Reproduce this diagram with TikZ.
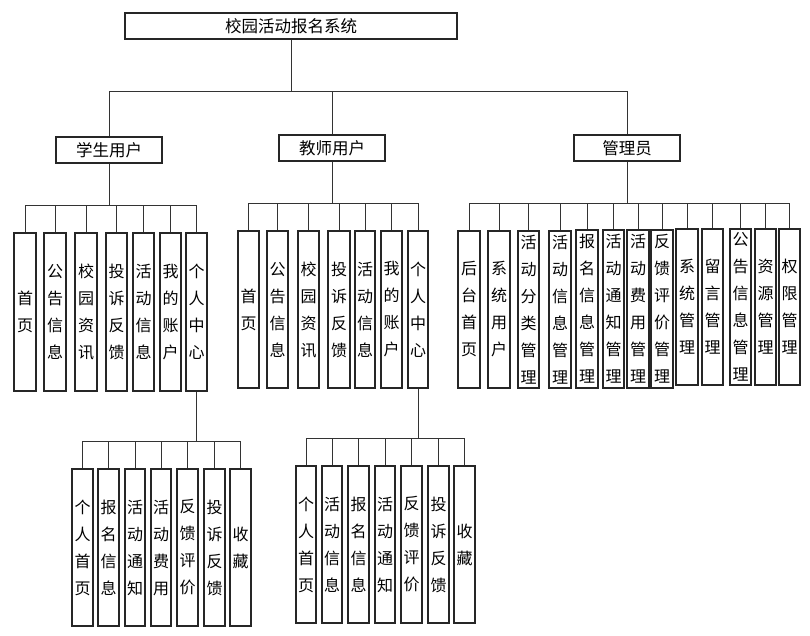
\documentclass[tikz,border=0pt]{standalone}
\usepackage{fontspec}
\newfontfamily\cjk{Noto Sans CJK SC}
\usetikzlibrary{shadows}
\tikzset{
  boxbase/.style={draw=black!85, line width=1.5pt, inner sep=0pt, fill=white,
    general shadow={fill=black!30, shadow xshift=1.2pt, shadow yshift=-1.2pt}},
  vbox/.style={boxbase, align=center, font=\cjk\fontsize{16}{27}\selectfont},
  hbox/.style={boxbase, font=\cjk\fontsize{16.5}{20}\selectfont},
  conn/.style={draw=black!80, line width=0.9pt}
}
\newcommand\bx[7][vbox]{\node[#1,minimum width={(#4)-(#3)},minimum height={(#6)-(#5)}] (#2) at ({((#3)+(#4))/2},{((#5)+(#6))/2}) {#7};}
\begin{document}
\begin{tikzpicture}[x=1pt,y=-1pt]
\useasboundingbox (0,0) rectangle (810,636);
% bars
\coordinate (b0) at (0,91);
\coordinate (bs) at (0,205);
\coordinate (bt) at (0,203);
\coordinate (ba) at (0,203);
\coordinate (bss) at (0,441);
\coordinate (bts) at (0,438);
% top levels
\bx[hbox]{root}{125}{457}{13}{39}{校园活动报名系统}
\bx[hbox]{s}{56}{162}{137}{163}{学生用户}
\bx[hbox]{t}{279}{385}{135}{161}{教师用户}
\bx[hbox]{a}{574}{680}{135}{161}{管理员}
% student
\bx{s1}{14}{36}{233}{391}{首\\页}
\bx{s2}{44}{66}{233}{391}{公\\告\\信\\息}
\bx{s3}{75}{97}{233}{391}{校\\园\\资\\讯}
\bx{s4}{106}{127}{233}{391}{投\\诉\\反\\馈}
\bx{s5}{133}{154}{233}{391}{活\\动\\信\\息}
\bx{s6}{160}{181}{233}{391}{我\\的\\账\\户}
\bx{s7}{186}{207}{233}{391}{个\\人\\中\\心}
% teacher
\bx{t1}{238}{259}{231}{388}{首\\页}
\bx{t2}{267}{288}{231}{388}{公\\告\\信\\息}
\bx{t3}{298}{319}{231}{388}{校\\园\\资\\讯}
\bx{t4}{328}{350}{231}{388}{投\\诉\\反\\馈}
\bx{t5}{355}{375}{231}{388}{活\\动\\信\\息}
\bx{t6}{381}{402}{231}{388}{我\\的\\账\\户}
\bx{t7}{408}{428}{231}{388}{个\\人\\中\\心}
% admin
\bx{a1}{458}{480}{231}{388}{后\\台\\首\\页}
\bx{a2}{488}{510}{231}{388}{系\\统\\用\\户}
\bx{a3}{518}{539}{231}{388}{活\\动\\分\\类\\管\\理}
\bx{a4}{549}{571}{231}{388}{活\\动\\信\\息\\管\\理}
\bx{a5}{576}{598}{230}{388}{报\\名\\信\\息\\管\\理}
\bx{a6}{603}{624}{230}{388}{活\\动\\通\\知\\管\\理}
\bx{a7}{627}{649}{230}{388}{活\\动\\费\\用\\管\\理}
\bx{a8}{651}{673}{230}{388}{反\\馈\\评\\价\\管\\理}
\bx{a9}{676}{698}{229}{385}{系\\统\\管\\理}
\bx{a10}{702}{723}{229}{385}{留\\言\\管\\理}
\bx{a11}{730}{751}{229}{385}{公\\告\\信\\息\\管\\理}
\bx{a12}{755}{776}{229}{385}{资\\源\\管\\理}
\bx{a13}{779}{800}{229}{385}{权\\限\\管\\理}
% student sub
\bx{ss1}{72}{93}{469}{626}{个\\人\\首\\页}
\bx{ss2}{98}{119}{469}{626}{报\\名\\信\\息}
\bx{ss3}{125}{145}{469}{626}{活\\动\\通\\知}
\bx{ss4}{151}{171}{469}{626}{活\\动\\费\\用}
\bx{ss5}{177}{198}{469}{626}{反\\馈\\评\\价}
\bx{ss6}{204}{225}{469}{626}{投\\诉\\反\\馈}
\bx{ss7}{230}{251}{469}{626}{收\\藏}
% teacher sub
\bx{ts1}{296}{316}{466}{623}{个\\人\\首\\页}
\bx{ts2}{322}{342}{466}{623}{活\\动\\信\\息}
\bx{ts3}{348}{369}{466}{623}{报\\名\\信\\息}
\bx{ts4}{375}{395}{466}{623}{活\\动\\通\\知}
\bx{ts5}{401}{422}{466}{623}{反\\馈\\评\\价}
\bx{ts6}{428}{449}{466}{623}{投\\诉\\反\\馈}
\bx{ts7}{454}{475}{466}{623}{收\\藏}
% connectors
\foreach \c in {s,t,a}
  \draw[conn] (root.south) -- (root.south |- b0) -| (\c.north);
\foreach \i in {1,...,7}
  \draw[conn] (s.south) -- (s.south |- bs) -| (s\i.north);
\foreach \i in {1,...,7}
  \draw[conn] (t.south) -- (t.south |- bt) -| (t\i.north);
\foreach \i in {1,...,13}
  \draw[conn] (a.south) -- (a.south |- ba) -| (a\i.north);
\foreach \i in {1,...,7}
  \draw[conn] (s7.south) -- (s7.south |- bss) -| (ss\i.north);
\foreach \i in {1,...,7}
  \draw[conn] (t7.south) -- (t7.south |- bts) -| (ts\i.north);
\end{tikzpicture}
\end{document}
